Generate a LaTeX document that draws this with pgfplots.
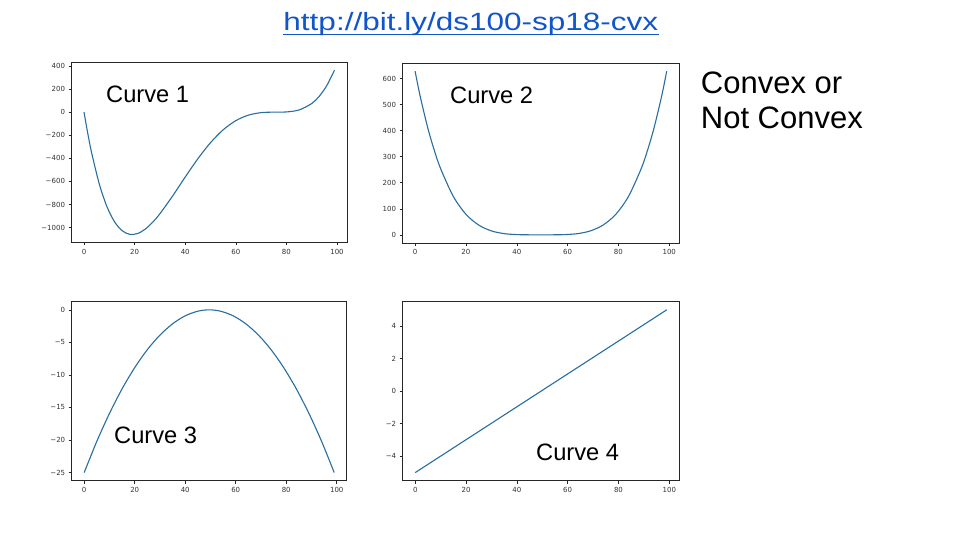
\documentclass[border=0pt]{standalone}
\usepackage{fontspec}
\setmainfont{Liberation Sans}
\newfontfamily\tickfont{DejaVu Sans}
\usepackage{graphicx}
\usepackage{pgfplots}
\pgfplotsset{compat=1.18}
\definecolor{curve}{RGB}{40,110,160}
\definecolor{link}{RGB}{17,85,204}
\pgfplotsset{panel/.style={
  scale only axis, anchor=north west,
  xmin=-4.95, xmax=103.95,
  xtick={0,20,40,60,80,100}, xticklabels={0,20,40,60,80,100},
  tick align=outside, xtick pos=left, ytick pos=left,
  major tick length=3pt,
  tick style={black!85, line width=0.5pt},
  axis line style={black!85, line width=0.6pt},
  tick label style={font=\tickfont\fontsize{7}{8}\selectfont, text=black!80},
}, cplot/.style={curve, line width=1.1pt, no markers}}
\pgfplotstableread{
x y
0 0
1 -127.1
2 -244.1
3 -351.6
6 -620.0
9 -815.4
12 -947.6
15 -1025.7
18 -1058.0
21 -1052.5
24 -1016.6
27 -956.9
30 -879.7
35 -726.7
40 -562.2
45 -403.9
50 -264.7
55 -153.4
60 -74.0
65 -26.1
70 -4.6
75 -0.02
80 1.5
85 18.7
90 74.4
93 137.6
96 231.4
99 362.9
}\curveone
\pgfplotstableread{
x y
0 628
2 532
5 410
7.5 326
10 255
15 148
20 79
25 37.7
30 15.1
35 4.6
40 0.85
45 0.04
49.5 0
54 0.04
59 0.85
64 4.6
69 15.1
74 37.7
79 79
84 148
89 255
91.5 326
94 410
97 532
99 628
}\curvetwo
\pgfplotstableread{
x y
0 -25
5 -20.2
10 -15.92
15 -12.14
20 -8.88
25 -6.12
30 -3.88
35 -2.15
40 -0.92
45 -0.21
49.5 0
54 -0.21
59 -0.92
64 -2.15
69 -3.88
74 -6.12
79 -8.88
84 -12.14
89 -15.92
94 -20.2
99 -25
}\curvethree
\pgfplotstableread{
x y
0 -5
99 5
}\curvefour
\begin{document}
\begin{tikzpicture}
\useasboundingbox[fill=white] (0,0) rectangle (960pt,540pt);
% Panel 1
\begin{axis}[panel, at={(71.5pt,478pt)}, width=275.5pt, height=180.5pt,
  ymin=-1129, ymax=434,
  ytick={-1000,-800,-600,-400,-200,0,200,400},
  yticklabels={−1000,−800,−600,−400,−200,0,200,400}]
\addplot[cplot, smooth] table[x=x,y=y] {\curveone};
\end{axis}
% Panel 2
\begin{axis}[panel, at={(402.5pt,477pt)}, width=276.8pt, height=180pt,
  ymin=-31.4, ymax=659.4,
  ytick={0,100,200,300,400,500,600},
  yticklabels={0,100,200,300,400,500,600}]
\addplot[cplot, smooth] table[x=x,y=y] {\curvetwo};
\end{axis}
% Panel 3
\begin{axis}[panel, at={(71.7pt,238.3pt)}, width=275pt, height=179pt,
  ymin=-26.25, ymax=1.25,
  ytick={-25,-20,-15,-10,-5,0},
  yticklabels={−25,−20,−15,−10,−5,0}]
\addplot[cplot, smooth] table[x=x,y=y] {\curvethree};
\end{axis}
% Panel 4
\begin{axis}[panel, at={(402.7pt,238.3pt)}, width=276.6pt, height=179pt,
  ymin=-5.5, ymax=5.5,
  ytick={-4,-2,0,2,4},
  yticklabels={−4,−2,0,2,4}]
\addplot[cplot, sharp plot] table[x=x,y=y] {\curvefour};
\end{axis}
% Labels
\node[anchor=base west, inner sep=0] at (106pt,437.3pt) {\fontsize{23.7}{28}\selectfont Curve 1};
\node[anchor=base west, inner sep=0] at (450pt,436.7pt) {\fontsize{23.7}{28}\selectfont Curve 2};
\node[anchor=base west, inner sep=0] at (114pt,96.7pt) {\fontsize{23.7}{28}\selectfont Curve 3};
\node[anchor=base west, inner sep=0] at (536pt,79.3pt) {\fontsize{23.7}{28}\selectfont Curve 4};
\node[anchor=base west, inner sep=0] at (700.7pt,446.7pt) {\fontsize{31}{35}\selectfont Convex or};
\node[anchor=base west, inner sep=0] at (700.7pt,411.7pt) {\fontsize{31}{35}\selectfont Not Convex};
% Title
\node[anchor=base, inner sep=0, text=link] at (470.8pt,509.5pt) {\fontsize{25}{30}\selectfont\scalebox{1.26}[1]{http://bit.ly/ds100-sp18-cvx}};
\draw[link, line width=1.8pt] (283pt,505.5pt) -- (658.5pt,505.5pt);
\end{tikzpicture}
\end{document}
